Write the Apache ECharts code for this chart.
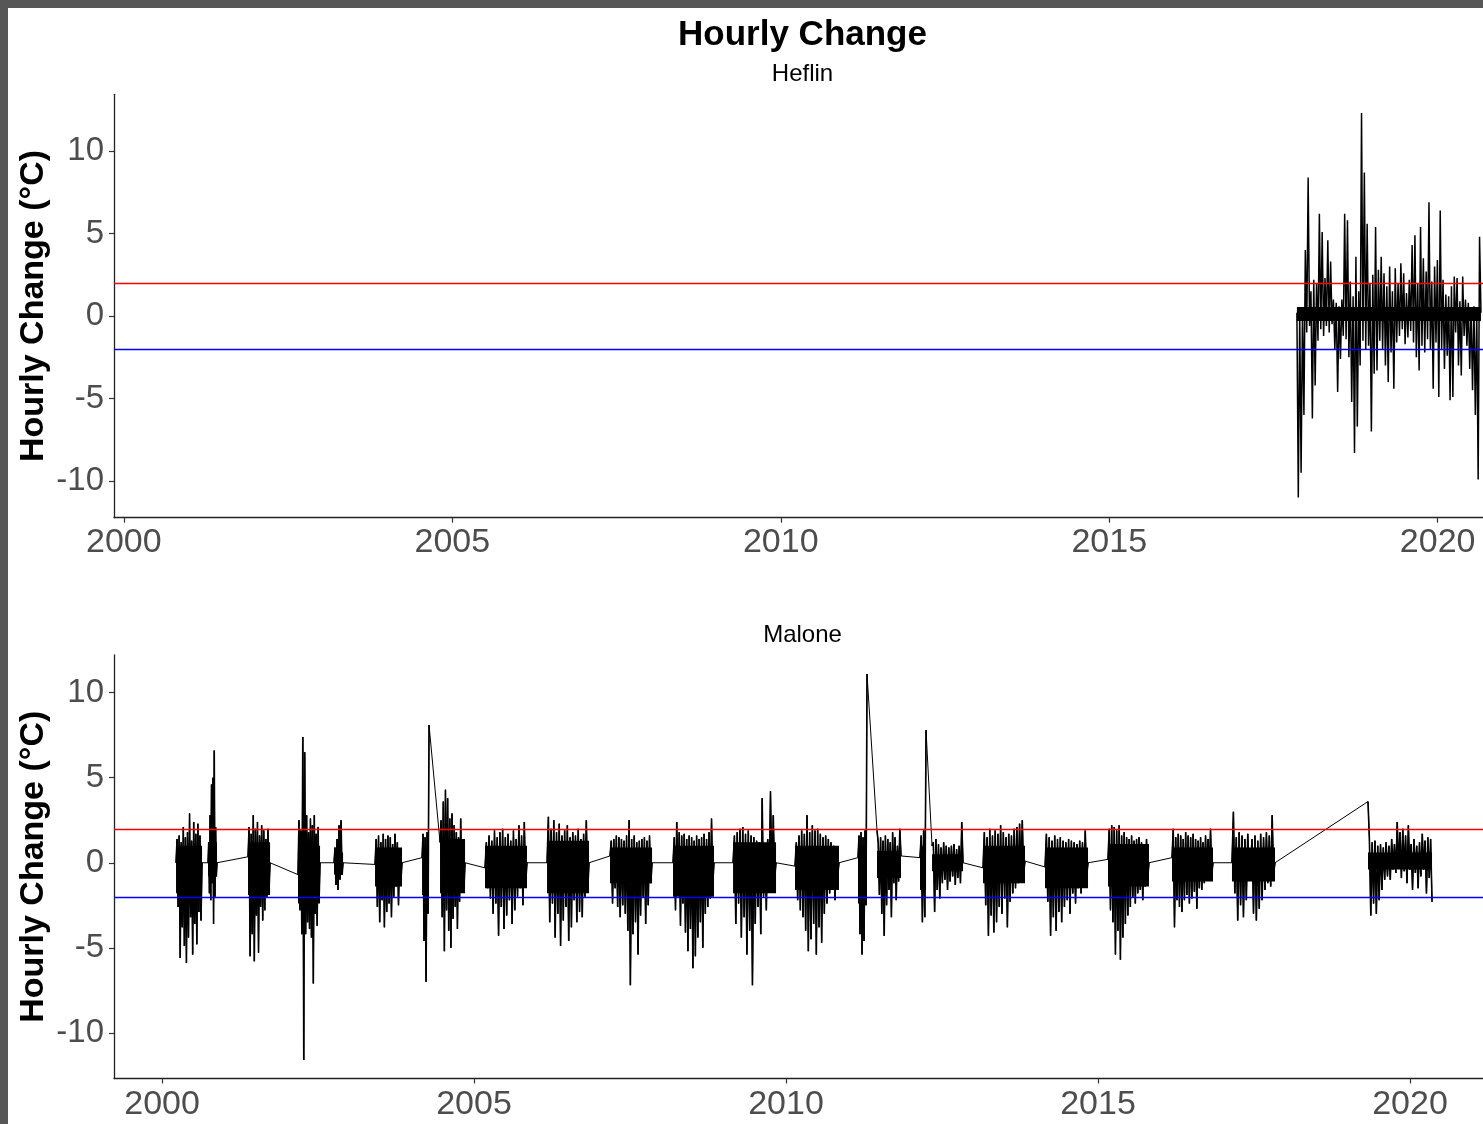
<!DOCTYPE html>
<html>
<head>
<meta charset="utf-8">
<script src="https://cdn.jsdelivr.net/npm/echarts@6/dist/echarts.min.js"></script>
<style>
  html, body { margin: 0; padding: 0; background: #575757; width: 1483px; height: 1124px; overflow: hidden; }
  #chart { position: absolute; left: 8px; top: 8px; width: 1475px; height: 1116px; background: #ffffff; }
</style>
</head>
<body>
<div id="chart"></div>
<script>
// ---- tick values ----
const yearTicks = [2000, 2005, 2010, 2015, 2020];
const changeTicks = [-10, -5, 0, 5, 10];
const upperThreshold = 2;
const lowerThreshold = -2;

// ---- Heflin: hourly change series (regular hourly sampling between start and end) ----
const heflinStart = 2017.857;
const heflinEnd = 2020.659;
const heflinCoreHigh = 0.55;   // dense band of the many small hourly changes
const heflinCoreLow = -0.3;
const heflinValues = [
  0.2, -11.0, 0.3, -9.5, 0.5, -6.0, 4.0, -1.0, 8.4, -0.6, 1.5, -6.2, 2.2, -4.2, 2.0, -1.5,
  6.2, -0.8, 5.1, -1.2, 2.3, -0.6, 4.6, -1.0, 3.3, -0.5, 1.0, -2.0, 0.8, -4.6, 0.6, -2.6,
  1.0, -1.2, 6.2, -1.4, 5.8, -2.5, 2.1, -5.2, 1.2, -8.3, 3.6, -6.7, 1.5, -3.0, 12.3, -1.5,
  8.7, -2.0, 5.6, -1.8, 2.0, -7.0, 2.5, -3.5, 5.4, -3.3, 2.8, -1.5, 3.6, -2.0, 2.6, -3.0,
  1.8, -4.0, 3.0, -2.2, 1.5, -4.4, 2.9, -1.6, 2.0, -1.2, 3.2, -0.8, 2.6, -1.7, 1.4, -1.3,
  2.2, -0.9, 4.3, -1.6, 4.9, -2.5, 2.0, -3.3, 5.4, -1.8, 3.5, -2.2, 2.7, -1.4, 6.9, -2.0,
  2.1, -4.4, 3.0, -1.6, 3.4, -4.9, 6.4, -2.0, 2.2, -3.2, 1.3, -2.4, 1.2, -5.1, 1.8, -4.9,
  2.4, -1.0, 2.3, -3.0, 0.9, -3.6, 2.4, -1.2, 1.0, -1.8, 0.8, -3.2, 0.5, -4.5, 0.6, -6.0,
  0.4, -9.9, 4.8, 0.2
];

// ---- Malone: seasonal record blocks (start / end in decimal years, values sampled regularly) ----
const maloneStart = [2000.224, 2000.737, 2001.378, 2002.179, 2002.756, 2003.413, 2004.167, 2004.455,
  2005.176, 2006.170, 2007.179, 2008.189, 2009.151, 2010.144, 2011.154, 2011.458, 2012.147, 2012.340,
  2013.157, 2014.151, 2015.160, 2016.186, 2017.147, 2019.327];
const maloneEnd = [2000.641, 2000.881, 2001.731, 2002.532, 2002.901, 2003.846, 2004.279, 2004.856,
  2005.849, 2006.843, 2007.853, 2008.846, 2009.840, 2010.849, 2011.298, 2011.843, 2012.244, 2012.837,
  2013.830, 2014.840, 2015.817, 2016.843, 2017.837, 2020.353];
// solid inner band (where the many small hourly changes fully overlap) of each block
const maloneCoreHigh = [1.0, 1.2, 1.2, 1.0, 0.6, 0.9, 1.0, 1.4, 1.0, 1.3, 0.9, 1.0, 1.2, 1.0, 1.0, 0.7,
  1.0, 0.5, 1.0, 0.9, 1.1, 0.9, 0.9, 0.6];
const maloneCoreLow = [-1.8, -0.8, -1.9, -2.4, -0.7, -1.4, -1.9, -1.8, -1.5, -1.8, -1.2, -2.0, -1.8, -1.6,
  -2.4, -0.9, -1.6, -0.5, -1.2, -1.5, -1.4, -1.1, -1.1, -0.4];
const maloneValues = [
  [0, 1.4,-2.6, 1.6,-5.6, 1.2,-3.8, 2.1,-4.9, 1.5,-5.9, 1.8,-4.4, 2.9,-3.2, 1.3,-5.4, 2.4,-3.6, 1.7,-4.8, 2.3,-2.9, 1.6,-3.4, 0],
  [0, 1.2,-1.8, 2.8,-2.2, 4.6,-1.2, 5.0,-3.6, 6.6,-2.0, 2.1,-0.8, 0],
  [0.35, 2.1,-5.5, 1.7,-4.2, 2.8,-5.8, 2.0,-3.1, 2.4,-5.3, 1.6,-2.6, 2.2,-3.4, 1.9,-2.8, 1.4,-2.0, 2.0,-1.6, 0],
  [-0.7, 2.5,-2.8, 1.9,-4.2, 7.4,-11.6, 6.5,-4.2, 2.8,-3.5, 1.8,-3.9, 2.6,-4.4, 2.2,-7.1, 2.8,-3.0, 1.7,-3.7, 2.1,-2.2, 0],
  [0, 0.9,-1.3, 1.4,-1.6, 2.2,-1.0, 2.5,-0.7, 0],
  [-0.1, 1.4,-2.6, 1.6,-3.5, 1.2,-2.2, 1.7,-3.8, 1.4,-2.9, 1.6,-2.4, 1.5,-3.2, 1.1,-2.0, 1.7,-1.4, 1.2,-2.5, 0.8,-1.1, 0],
  [0.3, 1.7,-4.6, 1.5,-7.0, 1.8,-3.0, 8.1],
  [1.2, 2.5,-3.2, 3.6,-5.2, 4.3,-2.8, 3.8,-4.0, 2.6,-5.0, 2.9,-3.3, 2.2,-2.6, 1.8,-3.9, 1.5,-2.3, 2.6,-1.2, 1.0,-1.5, 0],
  [-0.3, 1.2,-1.5, 1.6,-2.1, 1.3,-3.0, 1.9,-2.4, 1.5,-4.3, 1.8,-2.6, 2.0,-3.9, 1.5,-3.1, 1.7,-2.2, 1.3,-3.6, 1.9,-2.8, 1.4,-2.0, 2.2,-1.5, 1.6,-2.5, 2.4,-1.2, 0],
  [0, 2.7,-3.5, 2.0,-2.4, 2.5,-4.4, 1.8,-3.0, 2.3,-4.9, 1.6,-3.4, 1.9,-2.6, 2.2,-4.6, 1.5,-3.8, 1.8,-2.2, 1.6,-3.5, 2.0,-2.9, 1.4,-3.2, 1.7,-2.0, 2.5,-1.6, 0],
  [0.4, 1.3,-2.4, 1.4,-1.5, 1.6,-2.6, 1.5,-3.2, 1.4,-2.5, 1.3,-3.0, 1.6,-4.0, 2.5,-7.2, 1.4,-4.2, 1.6,-3.5, 1.2,-5.4, 1.3,-3.1, 1.4,-2.0, 1.5,-3.6, 1.3,-2.5, 1.6,-1.2, 0],
  [0, 1.5,-2.8, 2.4,-1.6, 1.8,-3.7, 1.6,-2.4, 1.7,-4.1, 1.4,-5.2, 1.6,-3.9, 1.5,-6.2, 1.3,-5.5, 1.6,-4.4, 1.4,-3.5, 1.5,-5.0, 1.7,-3.0, 1.4,-2.6, 1.8,-2.1, 2.6,-1.2, 0],
  [0, 1.6,-3.6, 1.8,-2.4, 2.0,-4.4, 2.1,-3.2, 1.7,-5.4, 1.9,-4.0, 1.6,-7.2, 1.5,-3.6, 1.3,-2.6, 1.2,-4.2, 3.8,-2.0, 1.1,-2.8, 1.4,-1.6, 4.2,-1.2, 2.8,-0.9, 0],
  [-0.2, 1.2,-2.2, 1.6,-2.8, 1.9,-3.2, 1.7,-4.0, 2.8,-5.2, 1.8,-4.5, 2.2,-3.6, 1.9,-5.4, 2.0,-3.8, 1.7,-4.7, 1.5,-3.0, 1.6,-2.4, 1.4,-1.8, 1.2,-1.5, 1.0,-2.2, 0.8,-0.8, 0],
  [0.3, 1.6,-4.2, 1.8,-5.4, 1.5,-4.6, 1.9,-2.5, 11.1],
  [1.9, 1.2,-1.9, 1.5,-3.0, 1.3,-4.3, 1.6,-2.5, 1.4,-1.6, 1.2,-3.2, 1.8,-1.2, 1.5,-2.2, 1.0,-1.1, 2.0, 0.4],
  [0.3, 1.6,-3.5, 1.9,-3.2, 7.8],
  [1.0, 1.2,-2.9, 1.4,-1.6, 1.1,-2.1, 0.9,-1.2, 1.2,-1.0, 1.0,-1.6, 0.9,-1.1, 1.0,-0.8, 1.1,-1.3, 0.8,-0.9, 1.0,-1.2, 2.4, 0],
  [-0.3, 1.8,-2.5, 1.5,-4.3, 2.0,-3.1, 1.6,-4.1, 1.9,-3.5, 1.7,-2.6, 2.2,-3.0, 1.8,-2.1, 1.5,-3.8, 1.7,-2.3, 1.6,-1.8, 2.0,-1.5, 2.1,-1.2, 2.3,-0.8, 2.5,-0.6, 0.1],
  [-0.25, 1.7,-2.3, 1.5,-4.3, 1.3,-3.2, 1.6,-4.0, 1.4,-2.9, 1.5,-3.5, 1.3,-2.6, 1.2,-2.2, 1.4,-3.0, 1.3,-1.8, 1.2,-2.4, 1.1,-1.5, 1.3,-1.8, 1.2,-1.2, 1.9,-0.8, 0],
  [0.2, 2.0,-2.8, 2.2,-3.5, 2.1,-5.4, 1.9,-4.0, 2.2,-5.7, 1.6,-4.4, 1.8,-3.6, 1.5,-3.1, 1.4,-2.6, 1.6,-2.0, 1.3,-2.4, 1.4,-1.8, 1.5,-1.6, 1.2,-2.2, 1.1,-1.4, 1.4,-0.9, 0],
  [0.3, 2.0,-3.8, 1.5,-2.2, 1.7,-2.6, 1.6,-2.9, 1.4,-2.2, 1.8,-1.9, 1.6,-2.4, 1.5,-2.1, 1.7,-1.7, 1.4,-2.7, 1.3,-1.5, 1.5,-1.6, 1.2,-1.2, 1.6,-1.0, 1.4,-0.8, 2.0,-0.7, 0],
  [0, 3.0,-1.8, 1.5,-3.4, 1.8,-2.5, 1.6,-3.2, 1.4,-2.2, 1.7,-0.5, 0, 1.4,-3.0, 1.6,-3.4, 1.3,-2.7, 1.7,-2.2, 1.5,-1.6, 1.8,-1.2, 1.6,-1.4, 2.8,-0.6, 0],
  [3.6, 1.4,-3.1, 1.2,-2.4, 1.3,-3.0, 1.0,-2.2, 1.1,-1.6, 0.9,-1.0, 1.2,-0.8, 1.0,-1.0, 1.4,-0.4, 1.1,-0.6, 2.4,-0.3, 1.8,-0.9, 2.0,-0.5, 1.6,-1.2, 2.2,-0.4, 1.1,-1.6, 1.4,-0.6, 1.0,-1.5, 1.2,-0.8, 1.7,-0.4, 1.3,-1.8, 1.5,-0.9, 1.4,-2.3]
];

// ---- build [time, value] pairs ----
function spread(start, end, vals) {
  const n = vals.length;
  return vals.map((v, i) => [start + (end - start) * (n > 1 ? i / (n - 1) : 0), v]);
}
const heflinData = spread(heflinStart, heflinEnd, heflinValues);
const maloneBlocks = maloneValues.map((vals, k) => spread(maloneStart[k], maloneEnd[k], vals));
const maloneData = [].concat(...maloneBlocks);
const heflinCore = [[heflinStart, heflinEnd, heflinCoreHigh, heflinCoreLow]];
const maloneCore = maloneStart.map((s, k) => [s, maloneEnd[k], maloneCoreHigh[k], maloneCoreLow[k]]);

const FONT = "'Liberation Sans', Arial, Helvetica, sans-serif";

function xAxisCfg(gridIndex, min, max, margin) {
  return {
    gridIndex, type: 'value', min, max,
    axisLine: { show: true, onZero: false, lineStyle: { color: '#222', width: 1.3 } },
    axisTick: { show: true, customValues: yearTicks, length: 5, lineStyle: { color: '#333', width: 1.2 } },
    axisLabel: { customValues: yearTicks, fontSize: 34, color: '#4d4d4d', margin, fontFamily: FONT,
      formatter: v => String(Math.round(v)) },
    splitLine: { show: false }
  };
}
function yAxisCfg(gridIndex, min, max) {
  return {
    gridIndex, type: 'value', min, max,
    name: 'Hourly Change (°C)', nameLocation: 'middle', nameRotate: 90, nameGap: 63,
    nameMoveOverlap: false,
    nameTextStyle: { fontSize: 34, fontWeight: 'bold', color: '#000', fontFamily: FONT },
    axisLine: { show: true, onZero: false, lineStyle: { color: '#222', width: 1.3 } },
    axisTick: { show: true, customValues: changeTicks, length: 5, lineStyle: { color: '#333', width: 1.2 } },
    axisLabel: { customValues: changeTicks, fontSize: 33, color: '#4d4d4d', margin: 10, fontFamily: FONT },
    splitLine: { show: false }
  };
}
function thresholdMarks() {
  return {
    silent: true, symbol: 'none', animation: false,
    label: { show: false },
    data: [
      { yAxis: upperThreshold, lineStyle: { color: '#ff0000', width: 1.4, type: 'solid' } },
      { yAxis: lowerThreshold, lineStyle: { color: '#0000ff', width: 1.4, type: 'solid' } }
    ]
  };
}
function coreSeries(axisIdx, data) {
  return {
    type: 'custom', xAxisIndex: axisIdx, yAxisIndex: axisIdx, data, silent: true, z: 2,
    encode: { x: [0, 1], y: [2, 3] },
    renderItem: (params, api) => {
      const p1 = api.coord([api.value(0), api.value(2)]);
      const p2 = api.coord([api.value(1), api.value(3)]);
      return { type: 'rect', shape: { x: p1[0], y: p1[1], width: p2[0] - p1[0], height: p2[1] - p1[1] },
        style: { fill: '#000' } };
    }
  };
}

const series = [
  coreSeries(0, heflinCore),
  coreSeries(1, maloneCore),
  { name: 'Heflin', type: 'line', xAxisIndex: 0, yAxisIndex: 0, data: heflinData,
    showSymbol: false, symbol: 'none', silent: true, z: 2,
    lineStyle: { color: '#000', width: 1.5 }, markLine: thresholdMarks() },
  { name: 'Malone', type: 'line', xAxisIndex: 1, yAxisIndex: 1, data: maloneData,
    showSymbol: false, symbol: 'none', silent: true, z: 2,
    lineStyle: { color: '#000', width: 1.0 }, markLine: thresholdMarks() }
];
maloneBlocks.forEach((blk) => {
  series.push({ type: 'line', xAxisIndex: 1, yAxisIndex: 1, data: blk,
    showSymbol: false, symbol: 'none', silent: true, z: 2,
    lineStyle: { color: '#000', width: 1.6 } });
});

const chart = echarts.init(document.getElementById('chart'), null, { renderer: 'canvas' });
chart.setOption({
  animation: false,
  backgroundColor: '#ffffff',
  textStyle: { fontFamily: FONT },
  title: [
    { text: 'Hourly Change', left: 794.5, top: 10, textAlign: 'center', padding: 0,
      textStyle: { fontSize: 35, fontWeight: 'bold', color: '#000', fontFamily: FONT } },
    { text: 'Heflin', left: 794.5, top: 54, textAlign: 'center', padding: 0,
      textStyle: { fontSize: 24, fontWeight: 'normal', color: '#000', fontFamily: FONT } },
    { text: 'Malone', left: 794.5, top: 615, textAlign: 'center', padding: 0,
      textStyle: { fontSize: 24, fontWeight: 'normal', color: '#000', fontFamily: FONT } }
  ],
  grid: [
    { left: 106, top: 86.3, width: 1369, height: 423.4, outerBoundsMode: 'none', containLabel: false },
    { left: 106, top: 647, width: 1369, height: 423.5, outerBoundsMode: 'none', containLabel: false }
  ],
  xAxis: [ xAxisCfg(0, 1999.85, 2020.69, 8), xAxisCfg(1, 1999.23, 2021.17, 9) ],
  yAxis: [ yAxisCfg(0, -12.22, 13.44), yAxisCfg(1, -12.69, 12.22) ],
  series
});
</script>
</body>
</html>
